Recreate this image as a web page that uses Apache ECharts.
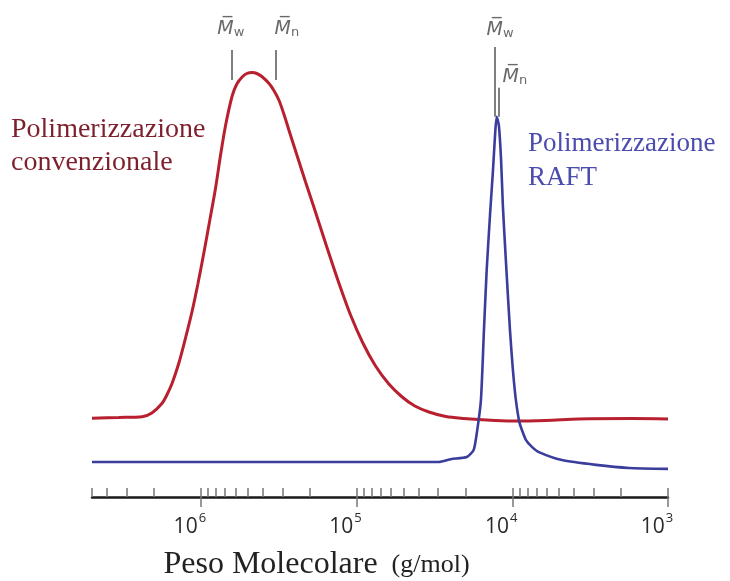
<!DOCTYPE html>
<html><head><meta charset="utf-8">
<script src="https://cdn.jsdelivr.net/npm/echarts@6/dist/echarts.min.js"></script>
<style>html,body{margin:0;padding:0;background:#fff}#c{width:730px;height:581px}</style>
</head><body><div id="c"></div>
<script>
// Molecular weight (g/mol) and detector signal (arbitrary units)
const redMW = [5.0e6, 3.363e6, 2.382e6, 2.064e6, 1.773e6, 1.653e6, 1.529e6, 1.384e6, 1.254e6, 1.137e6, 1.045e6, 9.566e5, 8.755e5, 8.044e5, 7.437e5, 6.909e5, 6.295e5, 5.872e5, 5.429e5, 5.065e5, 4.683e5, 4.369e5, 4.058e5, 3.659e5, 3.397e5, 3.155e5, 2.930e5, 2.721e5, 2.417e5, 2.126e5, 1.881e5, 1.545e5, 1.299e5, 1.093e5, 9.11e4, 7.551e4, 6.202e4, 5.095e4, 4.223e4, 3.432e4, 2.670e4, 2.046e4, 1.639e4, 1.006e4, 6.085e3, 3.735e3, 1.706e3, 1.0e3];
const redSignal = [17.9, 18.07, 18.25, 19.09, 21.3, 23.18, 25.84, 30.45, 36.14, 42.27, 48.41, 55.45, 62.95, 70.23, 78.18, 84.77, 91.14, 93.86, 95.45, 96.25, 96.48, 96.25, 95.57, 94.02, 92.39, 90.23, 87.05, 83.41, 77.73, 71.59, 65.91, 56.59, 48.64, 41.36, 35.0, 29.77, 25.68, 22.73, 20.68, 19.32, 18.3, 17.84, 17.61, 17.27, 17.39, 17.73, 17.84, 17.73];

const blueMW = [5.0e6, 7.19e4, 2.96e4, 2.48e4, 1.96e4, 1.77e4, 1.69e4, 1.59e4, 1.52e4, 1.46e4, 1.39e4, 1.33e4, 1.29e4, 1.26e4, 1.22e4, 1.18e4, 1.15e4, 1.10e4, 1.035e4, 9.91e3, 9.48e3, 9.07e3, 8.81e3, 8.18e3, 7.48e3, 6.75e3, 4.80e3, 2.90e3, 1.78e3, 1.0e3];
const blueSignal = [7.95, 7.95, 7.95, 8.6, 9.1, 10.7, 14.5, 22.0, 38.0, 51.6, 64.1, 74.3, 82.3, 86.4, 84.5, 76.6, 66.4, 53.9, 38.0, 28.9, 22.0, 17.5, 15.9, 13.0, 11.4, 10.2, 8.4, 7.3, 6.6, 6.4];

// Axis ticks
const majorTicks = [1e6, 1e5, 1e4, 1e3];
const minorTicks = [5e6, 4e6, 3e6, 2e6, 9e5, 8e5, 7e5, 6e5, 5e5, 4e5, 3e5, 2e5, 9e4, 8e4, 7e4, 6e4, 5e4, 4e4, 3e4, 2e4, 9e3, 8e3, 7e3, 6e3, 5e3, 4e3, 3e3, 2e3];

// Average molecular weight markers (Mw, Mn) for each distribution
const annotMW = [6.32e5, 3.30e5, 1.29e4, 1.22e4];
const annotTop = [101.6, 101.6, 102.3, 93.0];
const annotBottom = [94.8, 94.8, 86.4, 86.4];
const annotSub = ['w', 'n', 'w', 'n'];

const annotLabelOffsets = [[-1, -11], [11, -11], [5, -7], [16, -1]];

const chart = echarts.init(document.getElementById('c'), null, {renderer: 'canvas'});

const baseX = {
  type: 'log', logBase: 10, min: 1e3, max: 5e6, inverse: true,
  position: 'bottom', splitLine: {show: false}, gridIndex: 0
};

const option = {
  animation: false,
  backgroundColor: '#ffffff',
  grid: {left: 92, right: 62, top: 13, bottom: 84, containLabel: false, outerBoundsMode: 'none'},
  xAxis: [
    Object.assign({}, baseX, {
      axisLine: {show: true, onZero: false, lineStyle: {color: '#1a1a1a', width: 2.5}},
      axisTick: {show: true, customValues: majorTicks, length: 10, lineStyle: {color: '#777', width: 1.5}},
      axisLabel: {
        show: true, customValues: majorTicks, margin: 15,
        padding: [0, 22, 0, 0],
        formatter: v => '{b|10}{e|' + Math.round(Math.log10(v)) + '}',
        rich: {
          b: {fontFamily: 'Open Sans', fontSize: 21, color: '#2a2a2a', lineHeight: 26, verticalAlign: 'bottom'},
          e: {fontFamily: 'Open Sans', fontSize: 13, color: '#2a2a2a', lineHeight: 26, verticalAlign: 'top', padding: [0, 0, 12, 1]}
        }
      },
      name: '{a|Peso Molecolare}{b|(g/mol)}',
      nameLocation: 'middle', nameGap: 48,
      nameTextStyle: {
        padding: [0, 127, 0, 0],
        rich: {
          a: {fontFamily: 'Liberation Serif', fontSize: 32, color: '#222', verticalAlign: 'bottom', lineHeight: 36},
          b: {fontFamily: 'Liberation Serif', fontSize: 26, color: '#222', verticalAlign: 'bottom', lineHeight: 36, padding: [0, 0, 3, 14]}
        }
      }
    }),
    Object.assign({}, baseX, {
      axisLine: {show: false, onZero: false},
      axisTick: {show: true, inside: true, customValues: minorTicks.concat(majorTicks), length: 9, lineStyle: {color: '#777', width: 1.5}},
      axisLabel: {show: false}
    })
  ],
  yAxis: {type: 'value', min: 0, max: 110, show: false},
  graphic: [
    {type: 'text', left: 11, top: 113, style: {text: 'Polimerizzazione\nconvenzionale', font: '28px "Liberation Serif"', fill: '#7d1f2c', lineHeight: 33}},
    {type: 'text', left: 528, top: 127, style: {text: 'Polimerizzazione\nRAFT', font: '27px "Liberation Serif"', fill: '#4a4cae', lineHeight: 34}}
  ],
  series: [
    {
      type: 'line', name: 'convenzionale', xAxisIndex: 0,
      data: redMW.map((m, i) => [m, redSignal[i]]),
      smooth: 0.3, symbol: 'none',
      lineStyle: {color: '#b82030', width: 3}
    },
    {
      type: 'line', name: 'RAFT', xAxisIndex: 0,
      data: blueMW.map((m, i) => [m, blueSignal[i]]),
      smooth: 0.2, symbol: 'none',
      lineStyle: {color: '#3a3d9c', width: 2.6}
    },
    {
      type: 'scatter', xAxisIndex: 0, symbolSize: 0, silent: true,
      data: annotMW.map((m, i) => ({
        value: [m, annotTop[i]],
        label: {
          show: true, position: 'top', distance: 0, offset: annotLabelOffsets[i],
          formatter: '{m|M\u0305}{s|' + annotSub[i] + '}',
          rich: {
            m: {fontFamily: 'DejaVu Sans', fontStyle: 'italic', fontSize: 19, color: '#444', verticalAlign: 'bottom', lineHeight: 24},
            s: {fontFamily: 'DejaVu Sans', fontSize: 13, color: '#444', verticalAlign: 'bottom', lineHeight: 24, padding: [6, 0, 0, 0]}
          }
        }
      })),
      markLine: {
        silent: true, symbol: 'none',
        lineStyle: {color: '#555', width: 1.5, type: 'solid'},
        label: {show: false},
        data: annotMW.map((m, i) => [{coord: [m, annotTop[i]]}, {coord: [m, annotBottom[i]]}])
      }
    }
  ]
};
chart.setOption(option);
</script>
</body></html>
